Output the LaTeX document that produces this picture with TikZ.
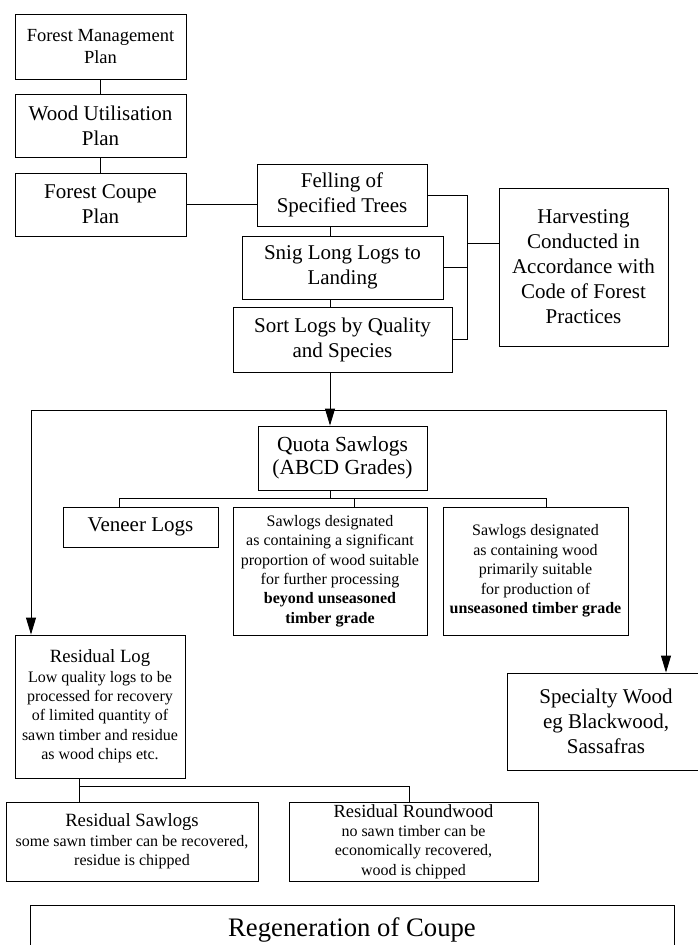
\documentclass[tikz,border=0pt]{standalone}
\usepackage{fontspec}
\setmainfont{Liberation Serif}
\usetikzlibrary{arrows.meta, calc}

\begin{document}
\begin{tikzpicture}[
    x=1pt, y=-1pt, line width=0.9pt,
    box/.style={rectangle, draw, align=center, inner sep=0pt},
    bigtxt/.style={font=\fontsize{21}{25}\selectfont},
    medtxt/.style={font=\fontsize{18.5}{22}\selectfont},
    smalltxt/.style={font=\fontsize{16}{19.4}\selectfont},
    >={Triangle[length=17pt, width=10pt]}
  ]
  \clip (0,0) rectangle (698,945);

  % planning and harvesting
  \node[box, medtxt, minimum width=171, minimum height=65] (fmp) at (100.5, 46.5) {Forest Management\\Plan};
  \node[box, bigtxt, minimum width=171, minimum height=63] (wup) at (100.5, 125.5) {Wood Utilisation\\Plan};
  \node[box, bigtxt, minimum width=171, minimum height=63] (fcp) at (100.5, 204.5) {Forest Coupe\\Plan};
  \node[box, bigtxt, minimum width=170, minimum height=62] (fell) at (342, 195) {Felling of\\Specified Trees};
  \node[box, bigtxt, minimum width=201, minimum height=63] (snig) at (342.5, 267.5) {Snig Long Logs to\\Landing};
  \node[box, bigtxt, minimum width=219, minimum height=65] (sort) at (342.5, 339.5) {Sort Logs by Quality\\and Species};
  \node[box, bigtxt, minimum width=169, minimum height=158] (harv) at (583.5, 267) {Harvesting\\Conducted in\\Accordance with\\Code of Forest\\Practices};

  % log classes
  \node[box, font=\fontsize{21.5}{23}\selectfont, minimum width=169, minimum height=64] (quota) at (342.5, 458) {Quota Sawlogs\\(ABCD Grades)};
  \node[box, bigtxt, minimum width=155, minimum height=40] (veneer) at (140.5, 527) {Veneer Logs};
  \node[box, smalltxt, minimum width=194, minimum height=128] (sawmid) at (330, 571) {Sawlogs designated\\as containing a significant\\proportion of wood suitable\\for further processing\\\textbf{beyond unseasoned}\\\textbf{timber grade}};
  \node[box, smalltxt, minimum width=185, minimum height=128] (sawright) at (535.5, 571) {Sawlogs designated\\as containing wood\\primarily suitable\\for production of\\\textbf{unseasoned timber grade}};
  \node[box, smalltxt, minimum width=170, minimum height=143] (reslog) at (100, 706.5) {{\fontsize{18.7}{21}\selectfont Residual Log}\\Low quality logs to be\\processed for recovery\\of limited quantity of\\sawn timber and residue\\as wood chips etc.};
  \node[box, bigtxt, minimum width=198, minimum height=97] (special) at (606, 721.5) {Specialty Wood\\eg Blackwood,\\Sassafras};
  \node[box, smalltxt, minimum width=252, minimum height=79] (ressaw) at (132, 841.5) {{\fontsize{18.7}{21}\selectfont Residual Sawlogs}\\some sawn timber can be recovered,\\residue is chipped};
  \node[box, smalltxt, minimum width=249, minimum height=79] (resround) at (413.5, 841.5) {{\fontsize{18.5}{21}\selectfont Residual Roundwood}\\no sawn timber can be\\economically recovered,\\wood is chipped};
  \node[box, font=\fontsize{26.7}{30}\selectfont, minimum width=644, minimum height=50] (regen) at (352, 930) {Regeneration of Coupe};

  \coordinate (spine) at (330, 0);
  \coordinate (brk) at (467, 243);
  \coordinate (lft) at (31, 410);
  \coordinate (rgt) at (666, 410);
  \coordinate (qbr) at (330, 498);
  \coordinate (rbr) at (79, 786);

  \draw (fmp) -- (wup);
  \draw (wup) -- (fcp);
  \draw (fcp.east) -- (fcp.east -| fell.west);
  \draw (spine |- fell.south) -- (spine |- snig.north);
  \draw (spine |- snig.south) -- (spine |- sort.north);
  \draw (fell.east) -| (brk |- sort.east) -- (sort.east);
  \draw (snig.east) -- (snig.east -| brk);
  \draw (brk) -- (brk -| harv.west);

  \draw[->] (spine |- sort.south) -- (spine |- quota.north);
  \draw (lft) -- (rgt);
  \draw[->] (lft) -- (lft |- reslog.north);
  \draw[->] (rgt) -- (rgt |- special.north);

  \draw (spine |- quota.south) -- (qbr);
  \foreach \n/\s in {veneer/-21.5, sawmid/24, sawright/10.5}
    \draw (qbr) -| ([xshift=\s]\n.north);

  \draw ([xshift=-21]reslog.south) -- ([xshift=-53]ressaw.north);
  \draw (rbr) -| ([xshift=-4.5]resround.north);

\end{tikzpicture}
\end{document}
